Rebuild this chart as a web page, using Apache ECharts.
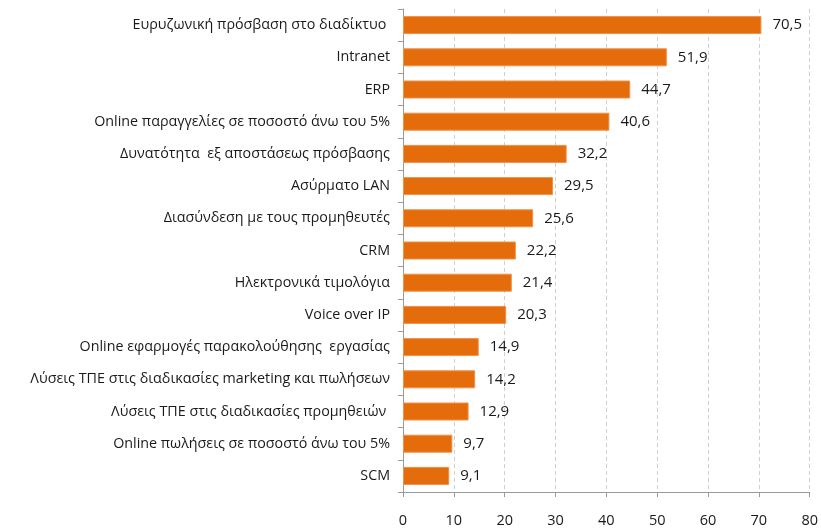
<!DOCTYPE html>
<html>
<head>
<meta charset="utf-8">
<script src="https://cdn.jsdelivr.net/npm/echarts@6/dist/echarts.min.js"></script>
<style>
  html, body { margin: 0; padding: 0; background: #fff; }
  #chart { width: 821px; height: 532px; }
</style>
</head>
<body>
<div id="chart"></div>
<script>
const categories = [
    'Ευρυζωνική πρόσβαση στο διαδίκτυο ',
    'Intranet',
    'ERP',
    'Online παραγγελίες σε ποσοστό άνω του 5%',
    'Δυνατότητα  εξ αποστάσεως πρόσβασης',
    'Ασύρματο LAN',
    'Διασύνδεση με τους προμηθευτές',
    'CRM',
    'Ηλεκτρονικά τιμολόγια',
    'Voice over IP',
    'Online εφαρμογές παρακολούθησης  εργασίας',
    'Λύσεις ΤΠΕ στις διαδικασίες marketing και πωλήσεων',
    'Λύσεις ΤΠΕ στις διαδικασίες προμηθειών ',
    'Online πωλήσεις σε ποσοστό άνω του 5%',
    'SCM'
];
const values = [70.5, 51.9, 44.7, 40.6, 32.2, 29.5, 25.6, 22.2, 21.4, 20.3, 14.9, 14.2, 12.9, 9.7, 9.1];
const xTicks = { min: 0, max: 80, interval: 10 };

const chart = echarts.init(document.getElementById('chart'));
const font = "'Open Sans', 'DejaVu Sans', sans-serif";

chart.setOption({
    animation: false,
    grid: { left: 403, right: 9, top: 9, bottom: 40, containLabel: false },
    xAxis: {
        type: 'value',
        min: xTicks.min,
        max: xTicks.max,
        interval: xTicks.interval,
        axisLine: { show: true, lineStyle: { color: '#9a9a9a' } },
        axisTick: { show: true, length: 5, lineStyle: { color: '#9a9a9a' } },
        axisLabel: { color: '#1a1a1a', fontFamily: font, fontSize: 14.5, margin: 21 },
        splitLine: { show: true, lineStyle: { color: '#d0d0d0', type: [4, 3] } }
    },
    yAxis: {
        type: 'category',
        inverse: true,
        data: categories,
        axisLine: { show: true, lineStyle: { color: '#9a9a9a' } },
        axisTick: { show: true, length: 5, lineStyle: { color: '#9a9a9a' } },
        axisLabel: { color: '#1a1a1a', fontFamily: font, fontSize: 14.3, margin: 13 }
    },
    series: [{
        type: 'bar',
        data: values,
        barWidth: 18,
        itemStyle: { color: '#E46C0A', borderColor: '#F0914A', borderWidth: 1 },
        label: {
            show: true,
            position: 'right',
            distance: 11,
            color: '#1a1a1a',
            fontFamily: font,
            fontSize: 15,
            formatter: p => p.value.toFixed(1).replace('.', ',')
        }
    }]
});
</script>
</body>
</html>
